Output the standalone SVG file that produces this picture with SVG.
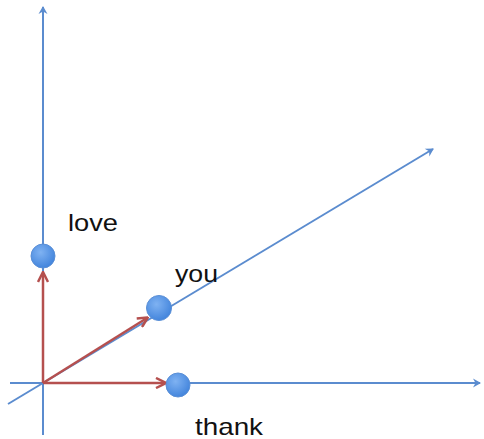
<svg xmlns="http://www.w3.org/2000/svg" width="484" height="439" viewBox="0 0 484 439">
<style>
.axis{stroke:#5b8ccf;stroke-width:2;fill:none}
.vec{stroke:#b5504f;stroke-width:2.5;fill:none}
.pt{fill:url(#g);stroke:#5a8fd6;stroke-width:1}
.lbl{font-family:"Liberation Sans",Arial,sans-serif;font-size:24px;fill:#111}
</style>
<defs>
<radialGradient id="g" cx="0.4" cy="0.35" r="0.7">
<stop offset="0" stop-color="#7fb2f2"/>
<stop offset="1" stop-color="#3f82db"/>
</radialGradient>
<marker id="ab" markerWidth="10" markerHeight="10" refX="8" refY="5" orient="auto" markerUnits="userSpaceOnUse">
<path d="M1,0.5 L9,5 L1,9.5 L3.5,5 Z" fill="#5b8ccf"/>
</marker>
<marker id="ar" markerWidth="12" markerHeight="12" refX="10" refY="6" orient="auto" markerUnits="userSpaceOnUse">
<path d="M1,1 L11,6 L1,11" fill="none" stroke="#b5504f" stroke-width="2.5"/>
</marker>
</defs>
<g id="axes">
<line class="axis" x1="43" y1="435" x2="43" y2="7" marker-end="url(#ab)"/>
<line class="axis" x1="10" y1="383" x2="480" y2="383" marker-end="url(#ab)"/>
<line class="axis" x1="8" y1="404" x2="433" y2="149" marker-end="url(#ab)"/>
</g>
<g id="connectors">
<line class="vec" x1="43" y1="383" x2="43" y2="273" marker-end="url(#ar)"/>
<line class="vec" x1="43" y1="383" x2="147" y2="318" marker-end="url(#ar)"/>
<line class="vec" x1="43" y1="383" x2="165" y2="383" marker-end="url(#ar)"/>
</g>
<g id="love">
<circle class="pt" cx="43" cy="256" r="12"/>
<text class="lbl" x="68" y="231" textLength="50" lengthAdjust="spacingAndGlyphs">love</text>
</g>
<g id="you">
<circle class="pt" cx="159" cy="308" r="12.5"/>
<text class="lbl" x="175" y="282" textLength="43" lengthAdjust="spacingAndGlyphs">you</text>
</g>
<g id="thank">
<circle class="pt" cx="178" cy="385" r="12"/>
<text class="lbl" x="195" y="435" textLength="68" lengthAdjust="spacingAndGlyphs">thank</text>
</g>
</svg>
